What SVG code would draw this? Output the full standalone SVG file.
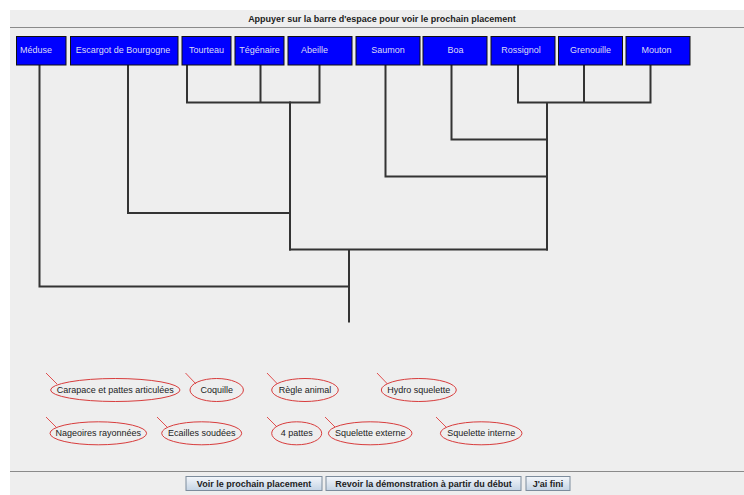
<svg xmlns="http://www.w3.org/2000/svg" width="744" height="495" viewBox="0 0 744 495">
<defs>
<linearGradient id="btn" x1="0" y1="0" x2="0" y2="1">
<stop offset="0" stop-color="#f4f7fb"/>
<stop offset="1" stop-color="#c4d3e4"/>
</linearGradient>
<style>
.box{fill:#0000ff;stroke:#111;stroke-width:1}
.bt{font-family:"Liberation Sans",Arial,sans-serif;font-size:9px;fill:#dcdcf4;text-anchor:middle}
.conn{fill:none;stroke:#333;stroke-width:2;stroke-linecap:square}
.ell{fill:none;stroke:#d83c3c;stroke-width:1}
.tick{stroke:#e05050;stroke-width:1}
.lt{font-family:"Liberation Sans",Arial,sans-serif;font-size:9px;fill:#222;text-anchor:middle}
.btn{fill:url(#btn);stroke:#7d8c9c;stroke-width:1}
.btt{font-family:"Liberation Sans",Arial,sans-serif;font-size:9px;font-weight:bold;fill:#222;text-anchor:middle}
</style>
</defs>
<rect x="0" y="0" width="744" height="495" fill="#ffffff"/>
<rect x="10" y="10" width="734" height="485" fill="#eeeeee"/>
<text x="382" y="22" class="btt">Appuyer sur la barre d'espace pour voir le prochain placement</text>
<line x1="10" y1="27.5" x2="744" y2="27.5" stroke="#8a8a8a" stroke-width="1"/>

<g id="connectors">
<path class="conn" d="M187,65 V102.5 H319.5 V65 M260.5,65 V102.5"/>
<path class="conn" d="M128,65 V213 H290 M290,102.5 V249.5"/>
<path class="conn" d="M518,65 V102.5 H650.5 V65 M584,65 V102.5 M547,102.5 V249.5"/>
<path class="conn" d="M451.5,65 V139.5 H547 M385.5,65 V176.5 H547"/>
<path class="conn" d="M290,249.5 H547 M349,249.5 V321.5"/>
<path class="conn" d="M39.5,65 V286.5 H349"/>
</g>

<g id="n-meduse"><rect class="box" x="16.5" y="36.5" width="49.5" height="28.5"/><text class="bt" x="36" y="53">Méduse</text></g>
<g id="n-escargot"><rect class="box" x="70.5" y="36.5" width="107.5" height="28.5"/><text class="bt" x="123" y="53">Escargot de Bourgogne</text></g>
<g id="n-tourteau"><rect class="box" x="182" y="36.5" width="49" height="28.5"/><text class="bt" x="206.5" y="53">Tourteau</text></g>
<g id="n-tegenaire"><rect class="box" x="235" y="36.5" width="49" height="28.5"/><text class="bt" x="259.5" y="53">Tégénaire</text></g>
<g id="n-abeille"><rect class="box" x="288" y="36.5" width="64" height="28.5"/><text class="bt" x="314.5" y="53">Abeille</text></g>
<g id="n-saumon"><rect class="box" x="356" y="36.5" width="64" height="28.5"/><text class="bt" x="388" y="53">Saumon</text></g>
<g id="n-boa"><rect class="box" x="423" y="36.5" width="64" height="28.5"/><text class="bt" x="455.5" y="53">Boa</text></g>
<g id="n-rossignol"><rect class="box" x="491" y="36.5" width="64" height="28.5"/><text class="bt" x="521" y="53">Rossignol</text></g>
<g id="n-grenouille"><rect class="box" x="558.5" y="36.5" width="64" height="28.5"/><text class="bt" x="590.5" y="53">Grenouille</text></g>
<g id="n-mouton"><rect class="box" x="626" y="36.5" width="64" height="28.5"/><text class="bt" x="656.5" y="53">Mouton</text></g>

<g id="l-carapace"><line class="tick" x1="46" y1="373" x2="57" y2="384"/><ellipse class="ell" cx="115.3" cy="390" rx="64.7" ry="11.5"/><text class="lt" x="115.3" y="393">Carapace et pattes articulées</text></g>
<g id="l-coquille"><line class="tick" x1="185.5" y1="373" x2="196" y2="384"/><ellipse class="ell" cx="216.7" cy="390" rx="26.7" ry="11.5"/><text class="lt" x="216.7" y="393">Coquille</text></g>
<g id="l-regle"><line class="tick" x1="267" y1="373" x2="277.5" y2="384"/><ellipse class="ell" cx="305" cy="390" rx="33.3" ry="11.5"/><text class="lt" x="305" y="393">Règle animal</text></g>
<g id="l-hydro"><line class="tick" x1="377" y1="373" x2="387.5" y2="384"/><ellipse class="ell" cx="418.8" cy="390" rx="37.5" ry="11.5"/><text class="lt" x="418.8" y="393">Hydro squelette</text></g>
<g id="l-nageoires"><line class="tick" x1="46" y1="417" x2="56" y2="427"/><ellipse class="ell" cx="98.3" cy="433.3" rx="48.3" ry="11.5"/><text class="lt" x="98.3" y="436.3">Nageoires rayonnées</text></g>
<g id="l-ecailles"><line class="tick" x1="157" y1="417" x2="167" y2="427"/><ellipse class="ell" cx="201.7" cy="433.3" rx="40" ry="11.5"/><text class="lt" x="201.7" y="436.3">Ecailles soudées</text></g>
<g id="l-4pattes"><line class="tick" x1="267" y1="417" x2="277" y2="427"/><ellipse class="ell" cx="296.7" cy="433.3" rx="25" ry="11.5"/><text class="lt" x="296.7" y="436.3">4 pattes</text></g>
<g id="l-sq-ext"><line class="tick" x1="325" y1="417" x2="335" y2="427"/><ellipse class="ell" cx="370.2" cy="433.3" rx="41.8" ry="11.5"/><text class="lt" x="370.2" y="436.3">Squelette externe</text></g>
<g id="l-sq-int"><line class="tick" x1="436" y1="417" x2="446" y2="427"/><ellipse class="ell" cx="481.2" cy="433.3" rx="40.8" ry="11.5"/><text class="lt" x="481.2" y="436.3">Squelette interne</text></g>

<line x1="10" y1="471.5" x2="744" y2="471.5" stroke="#8a8a8a" stroke-width="1"/>
<g id="b-voir"><rect class="btn" x="186" y="476.5" width="136" height="14"/><text class="btt" x="254" y="486.5">Voir le prochain placement</text></g>
<g id="b-revoir"><rect class="btn" x="326" y="476.5" width="195" height="14"/><text class="btt" x="423.5" y="486.5">Revoir la démonstration à partir du début</text></g>
<g id="b-fini"><rect class="btn" x="526" y="476.5" width="44" height="14"/><text class="btt" x="548" y="486.5">J'ai fini</text></g>
</svg>
